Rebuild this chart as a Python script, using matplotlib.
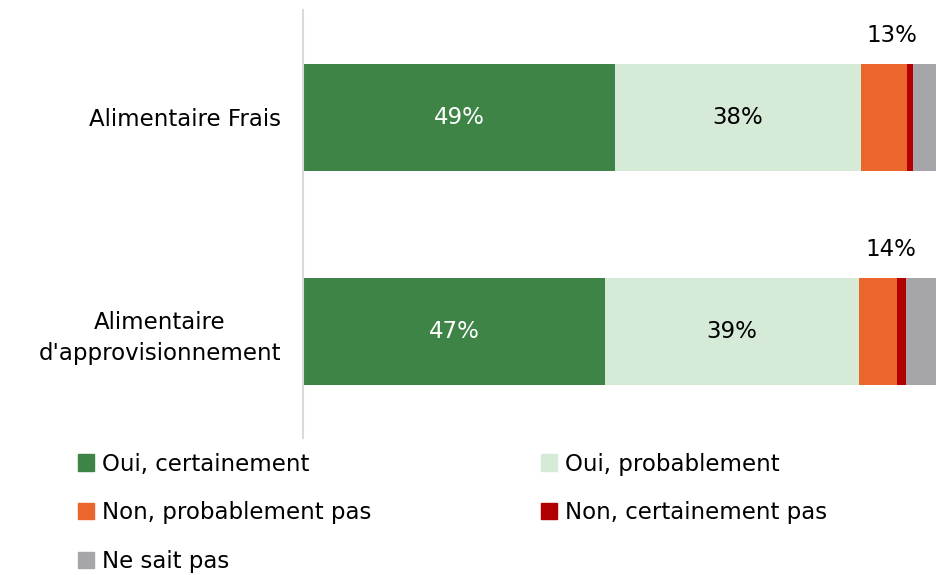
import matplotlib.pyplot as plt
from matplotlib.patches import Patch

plt.rcParams['font.family'] = ['DejaVu Sans']

categories = ['Alimentaire Frais', 'Alimentaire\nd\'approvisionnement']
series_names = ['Oui, certainement', 'Oui, probablement', 'Non, probablement pas',
                'Non, certainement pas', 'Ne sait pas']
colors = ['#3E8446', '#D5EBD7', '#EB662C', '#B00000', '#A5A5AA']

oui_cert = [49.3, 47.7]
oui_prob = [38.8, 40.1]
non_prob = [7.3, 6.0]
non_cert = [0.9, 1.4]
ne_sait = [3.7, 4.8]

oui_cert_labels = ['49%', '47%']
oui_prob_labels = ['38%', '39%']
non_total_labels = ['13%', '14%']

series = [oui_cert, oui_prob, non_prob, non_cert, ne_sait]

fs = 16.5

fig = plt.figure(figsize=(9.36, 5.75), dpi=100)
ax = fig.add_axes([0.3237, 0.238, 0.6763, 0.7445])

y = list(range(len(categories)))
left = [0.0] * len(categories)
for vals, name, col in zip(series, series_names, colors):
    ax.barh(y, vals, left=left, height=0.5, color=col, label=name)
    left = [l + v for l, v in zip(left, vals)]

# labels inside the bars and total of the "non" part above
for i in y:
    ax.text(oui_cert[i] / 2, i, oui_cert_labels[i], ha='center', va='center',
            fontsize=fs, color='white')
    ax.text(oui_cert[i] + oui_prob[i] / 2, i, oui_prob_labels[i],
            ha='center', va='center', fontsize=fs, color='black')
    start = oui_cert[i] + oui_prob[i]
    ax.text(start + (100 - start) / 2 - 1, i - 0.38, non_total_labels[i],
            ha='center', va='center', fontsize=fs, color='black')

ax.set_xlim(0, 100)
ax.set_ylim(1.5, -0.5)
ax.set_yticks(y)
ax.set_yticklabels(categories, fontsize=fs, linespacing=1.45,
                   multialignment='center')
ax.set_xticks([])
ax.tick_params(axis='y', length=0, pad=16)
for s in ['top', 'right', 'bottom']:
    ax.spines[s].set_visible(False)
ax.spines['left'].set_color('#D9D9D9')
ax.spines['left'].set_linewidth(1.5)

handles = [Patch(color=c) for c in colors]
order = [0, 2, 4, 1, 3]
fig.legend([handles[k] for k in order], [series_names[k] for k in order],
           loc='upper left', bbox_to_anchor=(0.083, 0.213), ncol=2,
           frameon=False, fontsize=fs, handlelength=0.7, handleheight=0.7,
           handletextpad=0.35, labelspacing=1.13, columnspacing=7.4,
           borderaxespad=0, borderpad=0)

fig.savefig('out.png', dpi=100)
